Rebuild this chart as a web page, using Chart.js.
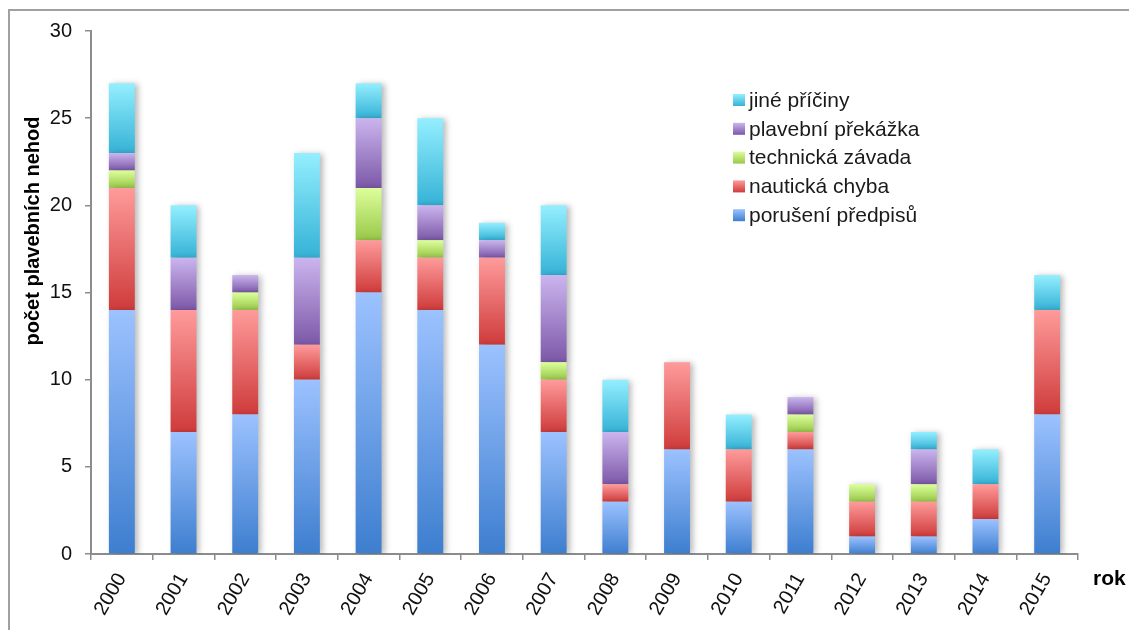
<!DOCTYPE html>
<html lang="cs">
<head>
<meta charset="utf-8">
<title>Plavební nehody podle příčin 2000–2015</title>
<script src="https://cdn.jsdelivr.net/npm/chart.js@4/dist/chart.umd.min.js"></script>
<style>
  html, body { margin: 0; padding: 0; background: #ffffff; }
  #wrap { position: relative; width: 1129px; height: 630px; overflow: hidden; background: #ffffff; }
  #frame { position: absolute; left: 8px; top: 9px; width: 1200px; height: 700px;
           border-top: 2px solid #a0a0a0; border-left: 2px solid #a0a0a0; }
  canvas { position: absolute; left: 0; top: 0; }
</style>
</head>
<body>
<div id="wrap">
  <div id="frame"></div>
  <canvas id="chart" width="1129" height="630"></canvas>
</div>
<script>
// Roky a počty plavebních nehod podle příčiny
const years = ['2000','2001','2002','2003','2004','2005','2006','2007',
               '2008','2009','2010','2011','2012','2013','2014','2015'];
const poruseniPredpisu   = [14, 7, 8, 10, 15, 14, 12, 7, 3, 6, 3, 6, 1, 1, 2, 8];
const nautickaChyba      = [ 7, 7, 6,  2,  3,  3,  5, 3, 1, 5, 3, 1, 2, 2, 2, 6];
const technickaZavada    = [ 1, 0, 1,  0,  3,  1,  0, 1, 0, 0, 0, 1, 1, 1, 0, 0];
const plavebniPrekazka   = [ 1, 3, 1,  5,  4,  2,  1, 5, 3, 0, 0, 1, 0, 2, 0, 0];
const jinePriciny        = [ 4, 3, 0,  6,  2,  5,  1, 4, 3, 0, 2, 0, 0, 1, 2, 2];
const yTicks = [0, 5, 10, 15, 20, 25, 30];

const seriesNames = ['porušení předpisů', 'nautická chyba', 'technická závada',
                     'plavební překážka', 'jiné příčiny'];
const seriesValues = [poruseniPredpisu, nautickaChyba, technickaZavada,
                      plavebniPrekazka, jinePriciny];
// světlá (nahoře) a tmavá (dole) barva přechodu
const seriesColors = [
  ['#9cc2ff', '#3d7ecf'],
  ['#ff9b9b', '#cf3b3b'],
  ['#ddff9c', '#98c848'],
  ['#cbb5ee', '#7c58a8'],
  ['#94efff', '#35b2d6']
];

const FONT = "'Liberation Sans', Arial, sans-serif";

function gradientFill(ctx, s) {
  const [light, dark] = seriesColors[s];
  if (ctx.type !== 'data') return dark;
  const chart = ctx.chart;
  const y = chart.scales.y;
  if (!y || !chart.chartArea) return dark;
  const i = ctx.dataIndex;
  let base = 0;
  for (let k = 0; k < s; k++) base += seriesValues[k][i];
  const v = seriesValues[s][i];
  const top = y.getPixelForValue(base + v);
  const bottom = y.getPixelForValue(base);
  if (!isFinite(top) || !isFinite(bottom) || top === bottom) return dark;
  const g = chart.ctx.createLinearGradient(0, top, 0, bottom);
  g.addColorStop(0, light);
  g.addColorStop(1, dark);
  return g;
}

const datasets = seriesNames.map((name, s) => ({
  label: name,
  data: seriesValues[s],
  backgroundColor: (ctx) => gradientFill(ctx, s),
  borderWidth: 0,
  categoryPercentage: 1.0,
  barPercentage: 0.42
}));

// měkký stín sloupců
const barShadow = {
  id: 'barShadow',
  beforeDatasetsDraw(chart) {
    const c = chart.ctx;
    c.save();
    c.shadowColor = 'rgba(0,0,0,0.28)';
    c.shadowBlur = 6;
    c.shadowOffsetX = 3;
    c.shadowOffsetY = 1;
  },
  afterDatasetsDraw(chart) {
    chart.ctx.restore();
  }
};

// legenda uvnitř grafu a popisky os
const labelsAndLegend = {
  id: 'labelsAndLegend',
  afterDraw(chart) {
    const c = chart.ctx;
    c.save();
    // legenda (obrácené pořadí)
    const lx = 733, ly0 = 100, step = 28.8, box = 12;
    c.font = '21px ' + FONT;
    c.textBaseline = 'middle';
    c.textAlign = 'left';
    const order = chart.data.datasets.map((d, i) => i).reverse();
    order.forEach((s, row) => {
      const cy = ly0 + row * step;
      const g = c.createLinearGradient(0, cy - box / 2, 0, cy + box / 2);
      g.addColorStop(0, seriesColors[s][0]);
      g.addColorStop(1, seriesColors[s][1]);
      c.fillStyle = g;
      c.fillRect(lx, cy - box / 2, box, box);
      c.fillStyle = '#1a1a1a';
      c.fillText(chart.data.datasets[s].label, lx + 16, cy + 1);
    });
    // název osy y
    c.font = 'bold 20px ' + FONT;
    c.fillStyle = '#000';
    c.textAlign = 'center';
    c.translate(33, 231);
    c.rotate(-Math.PI / 2);
    c.fillText('počet plavebních nehod', 0, 0);
    c.restore();
    // název osy x
    c.save();
    c.font = 'bold 21px ' + FONT;
    c.fillStyle = '#000';
    c.textAlign = 'left';
    c.textBaseline = 'middle';
    c.fillText('rok', 1093, 579);
    c.restore();
  }
};

new Chart(document.getElementById('chart'), {
  type: 'bar',
  data: { labels: years, datasets },
  plugins: [barShadow, labelsAndLegend],
  options: {
    responsive: false,
    animation: false,
    layout: { padding: { left: 0, top: 31, right: 51, bottom: 0 } },
    plugins: {
      legend: { display: false },
      tooltip: { enabled: false }
    },
    scales: {
      x: {
        stacked: true,
        afterFit(scale) { scale.height = 76; },
        grid: {
          display: true,
          offset: true,
          drawOnChartArea: false,
          drawTicks: true,
          tickLength: 6,
          color: '#8c8c8c',
          lineWidth: 1.5
        },
        border: { display: true, color: '#8c8c8c', width: 2 },
        ticks: {
          color: '#111',
          font: { family: FONT, size: 20 },
          minRotation: 60,
          maxRotation: 60,
          padding: 9,
          autoSkip: false
        }
      },
      y: {
        stacked: true,
        min: 0,
        max: 30,
        afterFit(scale) { scale.width = 91; },
        afterBuildTicks(scale) { scale.ticks = yTicks.map(v => ({ value: v })); },
        grid: {
          display: true,
          drawOnChartArea: false,
          drawTicks: true,
          tickLength: 6,
          color: '#8c8c8c',
          lineWidth: 1.5
        },
        border: { display: true, color: '#8c8c8c', width: 2 },
        ticks: {
          color: '#111',
          font: { family: FONT, size: 20 },
          padding: 13
        }
      }
    }
  }
});
</script>
</body>
</html>
